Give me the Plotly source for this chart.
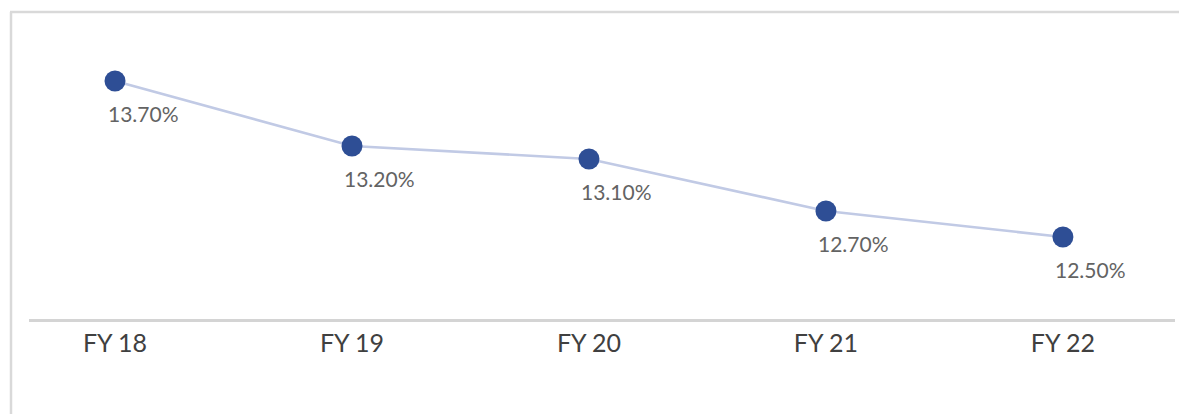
import plotly.graph_objects as go

categories = ["FY 18", "FY 19", "FY 20", "FY 21", "FY 22"]
values = [13.70, 13.20, 13.10, 12.70, 12.50]
labels = ["13.70%", "13.20%", "13.10%", "12.70%", "12.50%"]

W, H = 1179, 414
ML, MR, MT, MB = 29, 4, 20, 95
PW = W - ML - MR
PH = H - MT - MB


def px_x(p):
    return (p - ML) / PW


def px_y(p):
    return (H - MB - p) / PH


fig = go.Figure()
fig.add_trace(go.Scatter(
    x=categories, y=values, mode="lines+markers",
    line=dict(color="#c1cae5", width=2.6),
    marker=dict(color="#2e4e95", size=21),
    hoverinfo="skip", showlegend=False,
))

for c, v, t in zip(categories, values, labels):
    fig.add_annotation(x=c, y=v, xref="x", yref="y", text=t, showarrow=False,
                       xshift=28, yshift=-33,
                       font=dict(family="Lato", size=21, color="#636363"))

border = "#d9d9d9"
fig.add_shape(type="line", xref="paper", yref="paper",
              x0=px_x(11), x1=px_x(11), y0=px_y(12), y1=px_y(420),
              line=dict(color=border, width=2.5))
fig.add_shape(type="line", xref="paper", yref="paper",
              x0=px_x(10), x1=px_x(1185), y0=px_y(12), y1=px_y(12),
              line=dict(color=border, width=2.5))

fig.update_layout(
    width=W, height=H,
    margin=dict(l=ML, r=MR, t=MT, b=MB, pad=0),
    plot_bgcolor="white", paper_bgcolor="white",
    xaxis=dict(type="category", range=[-0.363, 4.473], showgrid=False,
               showline=True, linecolor="#d4d4d4", linewidth=2.5,
               ticks="", zeroline=False,
               tickfont=dict(family="Lato", size=25, color="#404040")),
    yaxis=dict(range=[11.869, 14.169], showgrid=False, showticklabels=False,
               zeroline=False, showline=False),
)

fig.write_html("out.html", config={"displayModeBar": False},
               post_script="document.body.style.margin='0px';document.body.style.overflow='hidden';")
